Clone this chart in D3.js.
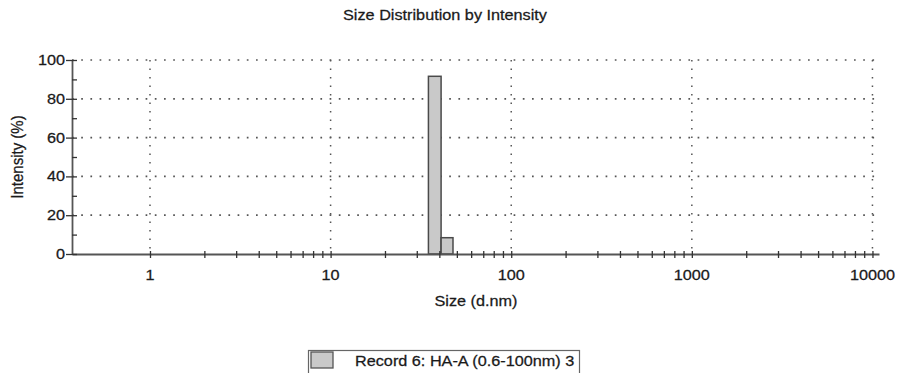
<!DOCTYPE html>
<html>
<head>
<meta charset="utf-8">
<script src="https://cdn.jsdelivr.net/npm/d3@7"></script>
<style>
  html, body { margin: 0; padding: 0; background: #fff; }
  svg { display: block; }
  text { font-family: "Liberation Sans", Arial, Helvetica, sans-serif; fill: #1a1a1a; stroke: #1a1a1a; stroke-width: 0.25; }
</style>
</head>
<body>
<svg id="chart" width="902" height="373"></svg>
<script>
// ---- data ----
const binLower = [34.8, 40.9];          // size bin lower edge (d.nm)
const binUpper = [40.9, 47.6];          // size bin upper edge (d.nm)
const intensity = [91.6, 8.4];          // intensity (%)
const xMajorTicks = [1, 10, 100, 1000, 10000];
const xTickLabels = ["1", "10", "100", "1000", "10000"];
const yMajorTicks = [0, 20, 40, 60, 80, 100];
const yMinorTicks = [10, 30, 50, 70, 90];
const titleText = "Size Distribution by Intensity";
const xLabel = "Size (d.nm)";
const yLabel = "Intensity (%)";
const legendText = "Record 6: HA-A (0.6-100nm) 3";

// ---- layout ----
const svg = d3.select("#chart");
const X0 = 72, X1 = 879, Y0 = 254, Y1 = 60;
const SX = 1.16; // horizontal stretch of text in reference

const x = d3.scaleLog().domain([0.37, 10870]).range([X0, X1]);
const y = d3.scaleLinear().domain([0, 100]).range([Y0, Y1]);

const xMinorTicks = [];
xMajorTicks.slice(0, -1).forEach(d => { for (let k = 2; k <= 9; k++) xMinorTicks.push(d * k); });

function sText(g, str, px, py, anchor, size) {
  return g.append("text")
    .attr("transform", `translate(${px},${py}) scale(${SX},1)`)
    .attr("text-anchor", anchor)
    .attr("font-size", size)
    .text(str);
}

// ---- grid (dotted) ----
const grid = svg.append("g");
grid.selectAll("line.h").data(yMajorTicks.filter(d => d > 0)).join("line")
  .attr("x1", X0).attr("x2", X1)
  .attr("y1", d => y(d)).attr("y2", d => y(d))
  .attr("stroke", "#555").attr("stroke-width", 1.7)
  .attr("stroke-dasharray", "1.7,7.5");
grid.selectAll("line.v").data(xMajorTicks).join("line")
  .attr("x1", d => x(d)).attr("x2", d => x(d))
  .attr("y1", Y1).attr("y2", Y0)
  .attr("stroke", "#555").attr("stroke-width", 1.5)
  .attr("stroke-dasharray", "1.5,7");

// ---- bars ----
svg.append("g").selectAll("rect").data(intensity).join("rect")
  .attr("x", (d, i) => x(binLower[i]))
  .attr("width", (d, i) => x(binUpper[i]) - x(binLower[i]))
  .attr("y", d => y(d))
  .attr("height", d => Y0 - y(d))
  .attr("fill", "#c9c9c9")
  .attr("stroke", "#4a4a4a")
  .attr("stroke-width", 1.5);

// ---- x axis ----
const xAxisG = svg.append("g").attr("transform", `translate(0,${Y0})`);
xAxisG.call(d3.axisBottom(x).tickValues(xMajorTicks.concat(xMinorTicks)).tickFormat("").tickSizeOuter(0));
xAxisG.select(".domain").attr("stroke", "#555").attr("stroke-width", 1.8);
xAxisG.selectAll(".tick line").attr("y1", -3).attr("y2", 4).attr("stroke", "#333").attr("stroke-width", 1.3);
xMajorTicks.forEach((d, i) => sText(svg, xTickLabels[i], x(d), 280, "middle", 14));

// ---- y axis ----
const yAxisG = svg.append("g").attr("transform", `translate(${X0},0)`);
yAxisG.call(d3.axisLeft(y).tickValues(yMajorTicks).tickFormat("").tickSizeOuter(0));
yAxisG.select(".domain").attr("stroke", "#555").attr("stroke-width", 1.8);
yAxisG.selectAll(".tick line").attr("x1", -6).attr("x2", 5).attr("stroke", "#333").attr("stroke-width", 1.3);
const yMinorG = svg.append("g").attr("transform", `translate(${X0},0)`);
yMinorG.call(d3.axisRight(y).tickValues(yMinorTicks).tickFormat("").tickSize(5).tickSizeOuter(0));
yMinorG.select(".domain").remove();
yMinorG.selectAll(".tick line").attr("stroke", "#333").attr("stroke-width", 1.3);
yMajorTicks.forEach(d => sText(svg, String(d), X0 - 7, y(d) + 5, "end", 14));

// ---- titles ----
sText(svg, titleText, 445, 20, "middle", 14);
sText(svg, xLabel, 476, 306, "middle", 14);
svg.append("text")
  .attr("transform", "translate(23,157) rotate(-90) scale(1,1.12)")
  .attr("text-anchor", "middle")
  .attr("font-size", 15)
  .text(yLabel);

// ---- legend ----
const lg = svg.append("g");
lg.append("rect").attr("x", 308.5).attr("y", 350.5).attr("width", 271).attr("height", 30)
  .attr("fill", "#fff").attr("stroke", "#666").attr("stroke-width", 1.2);
lg.append("rect").attr("x", 311).attr("y", 352).attr("width", 22).attr("height", 16)
  .attr("fill", "#c9c9c9").attr("stroke", "#555").attr("stroke-width", 1.3);
sText(lg, legendText, 355, 366, "start", 14);
</script>
</body>
</html>
